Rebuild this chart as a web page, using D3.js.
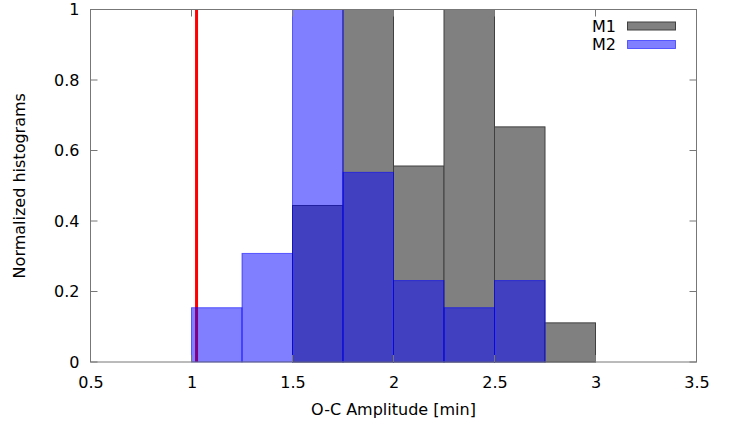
<!DOCTYPE html>
<html>
<head>
<meta charset="utf-8">
<script src="https://cdn.jsdelivr.net/npm/d3@7"></script>
<style>
  html, body { margin: 0; padding: 0; background: #fff; }
  svg text { font-family: "DejaVu Sans", sans-serif; font-size: 16px; fill: #000; }
</style>
</head>
<body>
<svg id="chart" width="738" height="428"></svg>
<script>
// Histogram bin edges (left edges, width 0.25 min)
const binStarts = [1.0, 1.25, 1.5, 1.75, 2.0, 2.25, 2.5, 2.75];
const binWidth = 0.25;
// Normalized counts per bin
const m1Values = [0, 0, 0.444, 1.0, 0.556, 1.0, 0.667, 0.111];
const m2Values = [0.154, 0.308, 1.0, 0.538, 0.231, 0.154, 0.231, 0];
const seriesNames = ["M1", "M2"];
const markerX = 1.025;
const xTicks = [0.5, 1, 1.5, 2, 2.5, 3, 3.5];
const yTicks = [0, 0.2, 0.4, 0.6, 0.8, 1];

const svg = d3.select("#chart");
const plotLeft = 90.5, plotRight = 696.5, plotTop = 9.5, plotBottom = 362;

const x = d3.scaleLinear().domain([0.5, 3.5]).range([plotLeft, plotRight]);
const y = d3.scaleLinear().domain([0, 1]).range([plotBottom, plotTop]);

const tickLen = 7;
const frame = "#777";

// M1 bars (solid gray)
svg.append("g").selectAll("rect")
  .data(binStarts.map((s, i) => ({ s, v: m1Values[i] })).filter(d => d.v > 0))
  .join("rect")
  .attr("x", d => x(d.s))
  .attr("width", d => x(d.s + binWidth) - x(d.s))
  .attr("y", d => y(d.v))
  .attr("height", d => y(0) - y(d.v))
  .attr("fill", "#808080")
  .attr("stroke", "#404040")
  .attr("stroke-width", 1);

// Vertical reference line
svg.append("line")
  .attr("x1", x(markerX)).attr("x2", x(markerX))
  .attr("y1", y(0)).attr("y2", y(1))
  .attr("stroke", "#ff0000")
  .attr("stroke-width", 3);

// M2 bars (semi-transparent blue)
svg.append("g").selectAll("rect")
  .data(binStarts.map((s, i) => ({ s, v: m2Values[i] })).filter(d => d.v > 0))
  .join("rect")
  .attr("x", d => x(d.s))
  .attr("width", d => x(d.s + binWidth) - x(d.s))
  .attr("y", d => y(d.v))
  .attr("height", d => y(0) - y(d.v))
  .attr("fill", "rgba(0,0,255,0.5)")
  .attr("stroke", "rgba(0,0,255,0.55)")
  .attr("stroke-width", 1);

// Frame
svg.append("rect")
  .attr("x", plotLeft).attr("y", plotTop)
  .attr("width", plotRight - plotLeft).attr("height", plotBottom - plotTop)
  .attr("fill", "none").attr("stroke", frame).attr("stroke-width", 1);

// Axes: labels outside, ticks pointing inward and mirrored
const xAxis = d3.axisBottom(x).tickValues(xTicks).tickSize(0).tickPadding(15)
  .tickFormat(d3.format("~g"));
const gx = svg.append("g").attr("transform", `translate(0,${plotBottom})`).call(xAxis);
gx.select(".domain").remove();
gx.selectAll("text").style("font-size", "16px").style("font-family", "DejaVu Sans, sans-serif");

const yAxis = d3.axisLeft(y).tickValues(yTicks).tickSize(0).tickPadding(11)
  .tickFormat(d3.format("~g"));
const gy = svg.append("g").attr("transform", `translate(${plotLeft},0)`).call(yAxis);
gy.select(".domain").remove();
gy.selectAll("text").style("font-size", "16px").style("font-family", "DejaVu Sans, sans-serif");

const ticks = svg.append("g").attr("stroke", frame).attr("stroke-width", 1);
xTicks.forEach(t => {
  ticks.append("line").attr("x1", x(t)).attr("x2", x(t)).attr("y1", plotBottom).attr("y2", plotBottom - tickLen);
  ticks.append("line").attr("x1", x(t)).attr("x2", x(t)).attr("y1", plotTop).attr("y2", plotTop + tickLen);
});
yTicks.forEach(t => {
  ticks.append("line").attr("x1", plotLeft).attr("x2", plotLeft + tickLen).attr("y1", y(t)).attr("y2", y(t));
  ticks.append("line").attr("x1", plotRight).attr("x2", plotRight - tickLen).attr("y1", y(t)).attr("y2", y(t));
});

// Axis titles
svg.append("text")
  .attr("x", (plotLeft + plotRight) / 2).attr("y", 415)
  .attr("text-anchor", "middle")
  .text("O-C Amplitude [min]");
svg.append("text")
  .attr("transform", `translate(25,${(plotTop + plotBottom) / 2}) rotate(-90)`)
  .attr("text-anchor", "middle")
  .text("Normalized histograms");

// Legend
const legendFill = ["#808080", "rgba(0,0,255,0.5)"];
const legendStroke = ["#404040", "rgba(0,0,255,0.55)"];
const legend = svg.append("g");
seriesNames.forEach((name, i) => {
  const cy = 26 + i * 18.5;
  legend.append("text")
    .attr("x", 616).attr("y", cy + 5.5)
    .attr("text-anchor", "end")
    .text(name);
  legend.append("rect")
    .attr("x", 627.5).attr("y", cy - 4)
    .attr("width", 48).attr("height", 8)
    .attr("fill", legendFill[i])
    .attr("stroke", legendStroke[i]);
});
</script>
</body>
</html>
